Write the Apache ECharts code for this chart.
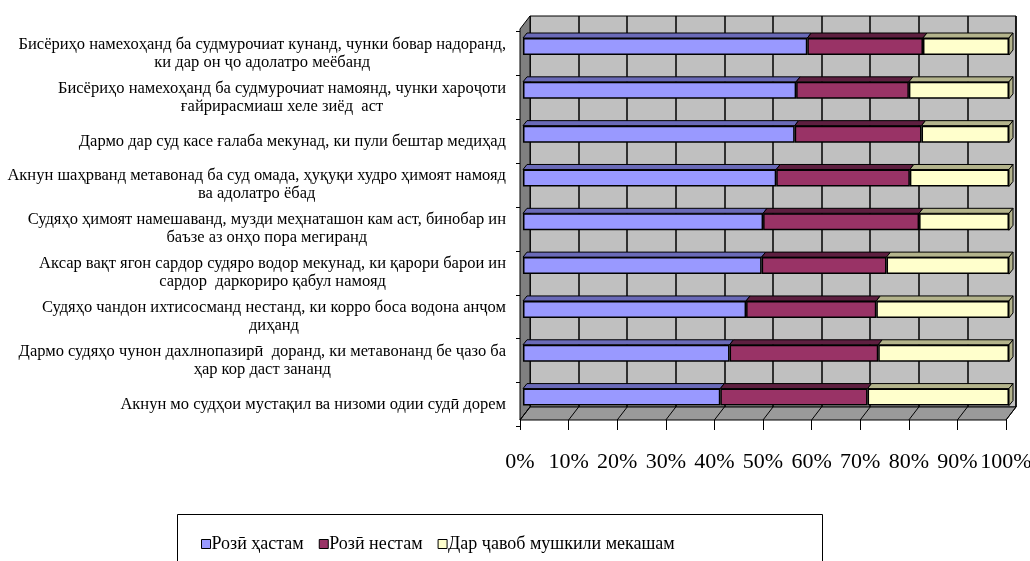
<!DOCTYPE html>
<html><head><meta charset="utf-8">
<script src="https://cdn.jsdelivr.net/npm/echarts@6/dist/echarts.min.js"></script>
<style>html,body{margin:0;padding:0;background:#fff}#c{width:1030px;height:561px}</style>
</head><body><div id="c"></div>
<script>
const categories = [
  "Бисёриҳо намехоҳанд ба судмурочиат кунанд, чунки бовар надоранд,\nки дар он ҷо адолатро меёбанд",
  "Бисёриҳо намехоҳанд ба судмурочиат намоянд, чунки хароҷоти\nғайрирасмиаш хеле зиёд  аст",
  "Дармо дар суд касе ғалаба мекунад, ки пули бештар медиҳад",
  "Акнун шаҳрванд метавонад ба суд омада, ҳуқуқи худро ҳимоят намояд\nва адолатро ёбад",
  "Судяҳо ҳимоят намешаванд, музди меҳнаташон кам аст, бинобар ин\nбаъзе аз онҳо пора мегиранд",
  "Аксар вақт ягон сардор судяро водор мекунад, ки қарори барои ин\nсардор  даркориро қабул намояд",
  "Судяҳо чандон ихтисосманд нестанд, ки корро боса водона анҷом\nдиҳанд",
  "Дармо судяҳо чунон дахлнопазирӣ  доранд, ки метавонанд бе ҷазо ба\nҳар кор даст зананд",
  "Акнун мо судҳои мустақил ва низоми одии судӣ дорем"
];
const seriesNames = ["Розӣ ҳастам", "Розӣ нестам", "Дар ҷавоб мушкили мекашам"];
const agree    = [58.5, 56.2, 55.9, 52.1, 49.4, 49.1, 45.9, 42.5, 40.6];
const disagree = [23.8, 23.2, 26.1, 27.5, 32.1, 25.7, 26.8, 30.6, 30.3];
const hard     = [17.7, 20.6, 18.0, 20.4, 18.5, 25.2, 27.3, 26.9, 29.1];
const xTicks = [0, 10, 20, 30, 40, 50, 60, 70, 80, 90, 100];

const values = [agree, disagree, hard];
const frontColors = ['#9999ff', '#993366', '#ffffcc'];
const topColors = ['#6a6ab8', '#5e1f40', '#b4b48c'];
const FONT = '"Liberation Serif", "Times New Roman", serif';

const segData = [];
categories.forEach((c, i) => {
  let acc = 0;
  values.forEach((arr, s) => {
    segData.push([acc, acc + arr[i], i, s]);
    acc += arr[i];
  });
});

const chart = echarts.init(document.getElementById('c'));
const HALF = 8.5, DX = 4, DY = 5;

chart.setOption({
  animation: false,
  grid: [
    {left: 530, right: 14, top: 16, bottom: 154, show: true, backgroundColor: '#c0c0c0', borderColor: '#000', borderWidth: 1, outerBoundsMode: 'none', containLabel: false},
    {left: 523, right: 21, top: 24.6, bottom: 142, outerBoundsMode: 'none', containLabel: false},
    {left: 520, right: 24, top: 31.6, bottom: 134.6, outerBoundsMode: 'none', containLabel: false},
    {left: 520, right: 24, top: 400, bottom: 141, outerBoundsMode: 'none', containLabel: false}
  ],
  xAxis: [
    {gridIndex: 0, type: 'value', min: 0, max: 100, interval: 10,
     axisLabel: {show: false}, axisTick: {show: false}, axisLine: {show: false},
     splitLine: {show: true, lineStyle: {color: '#000', width: 1.5}}},
    {gridIndex: 1, type: 'value', min: 0, max: 100, show: false},
    {gridIndex: 2, type: 'value', min: 0, max: 100, show: false},
    {gridIndex: 3, type: 'value', min: 0, max: 100, interval: 10,
     axisLine: {show: false},
     axisTick: {show: true, length: 10, lineStyle: {color: '#000', width: 1}},
     splitLine: {show: false},
     axisLabel: {formatter: '{value}%', color: '#000', fontFamily: FONT, fontSize: 22, margin: 31}}
  ],
  yAxis: [
    {gridIndex: 0, type: 'category', data: categories, inverse: true, show: false},
    {gridIndex: 1, type: 'category', data: categories, inverse: true, show: false},
    {gridIndex: 2, type: 'category', data: categories, inverse: true,
     axisLine: {show: false},
     axisTick: {show: true, length: 4, lineStyle: {color: '#000'}},
     axisLabel: {
       margin: 14, align: 'right', color: '#000',
       formatter: v => v.split('\n').map(l => '{c|' + l + '}').join('\n'),
       rich: {c: {align: 'center', fontFamily: FONT, fontSize: 16.5, lineHeight: 18, color: '#000'}}
     }},
    {gridIndex: 3, type: 'value', min: 0, max: 1, show: false}
  ],
  legend: {
    left: 196, top: 530, itemWidth: 9, itemHeight: 9, itemGap: 15, icon: 'rect',
    data: seriesNames,
    textStyle: {fontFamily: FONT, fontSize: 18, color: '#000', padding: [0, 0, 0, -4]},
    itemStyle: {borderColor: '#000', borderWidth: 1}
  },
  graphic: [
    {type: 'polygon', shape: {points: [[520, 29], [530, 16], [530, 407], [520, 420]]},
     style: {fill: '#808080', stroke: '#000', lineWidth: 1}, z: 1},
    {type: 'rect', shape: {x: 177.5, y: 514.5, width: 645, height: 60},
     style: {fill: 'none', stroke: '#000', lineWidth: 1}}
  ],
  series: [
    {type: 'custom', xAxisIndex: 3, yAxisIndex: 3, z: 1, silent: true,
     data: xTicks.map(t => [t]),
     encode: {x: 0},
     renderItem: (params, api) => {
       const p = api.coord([api.value(0), 0]);
       const children = [];
       if (params.dataIndex === 0) {
         const a = api.coord([0, 0]), b = api.coord([100, 0]);
         children.push({type: 'polygon', shape: {points: [[a[0], a[1]], [a[0] + 10, a[1] - 13], [b[0] + 10, b[1] - 13], [b[0], b[1]]]},
           style: {fill: '#9a9a9a', stroke: '#000', lineWidth: 1}});
       }
       children.push({type: 'line', shape: {x1: p[0], y1: p[1], x2: p[0] + 10, y2: p[1] - 13},
         style: {stroke: '#000', lineWidth: 1}});
       return {type: 'group', children};
     }},
    ...seriesNames.map((n, s) => ({
      name: n, type: 'bar', stack: 'all', xAxisIndex: 1, yAxisIndex: 1, barWidth: 17, z: 3,
      data: values[s],
      itemStyle: {color: frontColors[s], borderColor: '#000', borderWidth: 1.5}
    })),
    {type: 'custom', xAxisIndex: 1, yAxisIndex: 1, z: 4, silent: true,
     data: segData, encode: {x: [0, 1], y: 2},
     renderItem: (params, api) => {
       const s = api.value(3);
       const a = api.coord([api.value(0), api.value(2)]);
       const b = api.coord([api.value(1), api.value(2)]);
       const top = a[1] - HALF, bot = a[1] + HALF;
       const children = [{type: 'polygon',
         shape: {points: [[a[0], top], [b[0], top], [b[0] + DX, top - DY], [a[0] + DX, top - DY]]},
         style: {fill: topColors[s], stroke: '#000', lineWidth: 1}}];
       if (s === 2) {
         children.push({type: 'polygon',
           shape: {points: [[b[0], top], [b[0] + DX, top - DY], [b[0] + DX, bot - DY], [b[0], bot]]},
           style: {fill: topColors[s], stroke: '#000', lineWidth: 1}});
       }
       return {type: 'group', children};
     }}
  ]
});
</script></body></html>
